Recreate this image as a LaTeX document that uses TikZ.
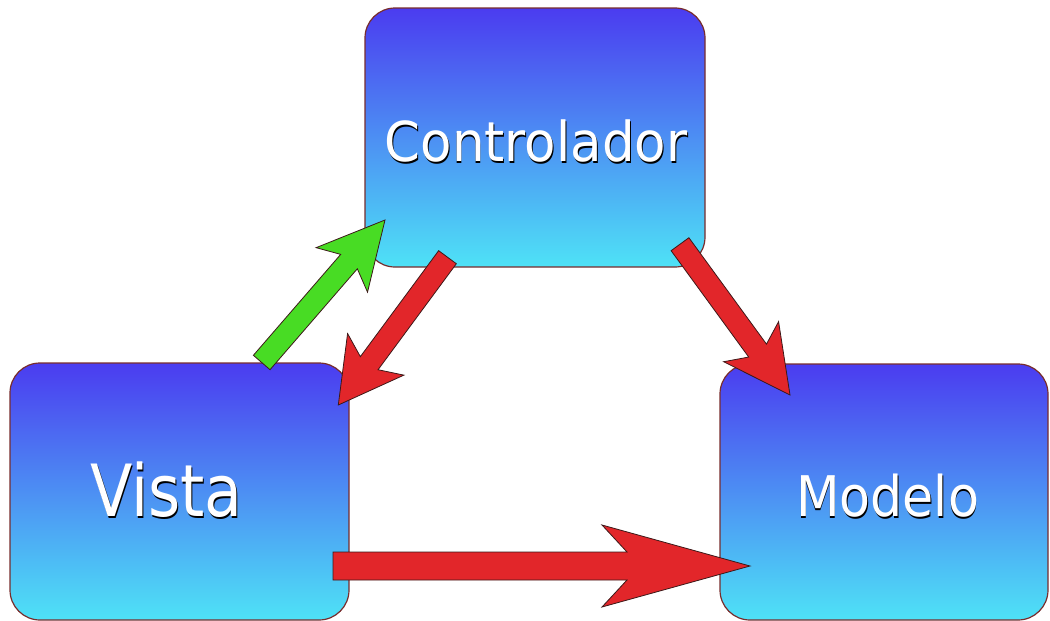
\documentclass[tikz,border=0pt]{standalone}
\usepackage{fontspec}
\setmainfont{DejaVu Sans}
\usetikzlibrary{calc}
\definecolor{boxtop}{RGB}{75,60,240}
\definecolor{boxbot}{RGB}{78,226,246}
\definecolor{boxline}{RGB}{120,45,45}
\definecolor{arrred}{RGB}{226,38,42}
\definecolor{arrgreen}{RGB}{72,220,36}
\definecolor{arrline}{RGB}{60,25,25}
\newcommand{\shtext}[2]{\scalebox{#1}[1]{\makebox[0pt][l]{\hspace{1pt}\raisebox{-2.5pt}{\color{black}#2}}{\color{white}#2}}}
% #1 tail, #2 tip, #3 half shaft, #4 half head, #5 head length, #6 head length minus notch, #7 colour
\newcommand{\blockarrow}[7]{%
  \coordinate (hb) at ($(#2)!#5!(#1)$);
  \coordinate (nb) at ($(#2)!#6!(#1)$);
  \filldraw[blk, fill=#7] ($(#1)!#3!90:(#2)$) -- ($(nb)!#3!90:(#2)$) -- ($(hb)!#4!90:(#2)$)
    -- (#2) -- ($(hb)!#4!-90:(#2)$) -- ($(nb)!#3!-90:(#2)$) -- ($(#1)!#3!-90:(#2)$) -- cycle;
}
\begin{document}
\begin{tikzpicture}[x=1pt,y=-1pt,
  mvcbox/.style={draw=boxline, line width=1.2pt, rounded corners=30pt,
    top color=boxtop, bottom color=boxbot, inner sep=0pt, outer sep=0pt},
  lbl/.style={anchor=base, inner sep=0pt},
  blk/.style={draw=arrline, line width=0.8pt, line join=miter}
]
\useasboundingbox (0,0) rectangle (1050,621);
\node[mvcbox, minimum width=340pt, minimum height=259pt] (ctrl) at (535,137.5) {};
\node[mvcbox, minimum width=339pt, minimum height=257pt] (vista) at (179.5,491.5) {};
\node[mvcbox, minimum width=328pt, minimum height=256pt] (modelo) at (884,492) {};

\node[lbl, font=\fontsize{55}{60}\selectfont] (ctrltxt) at (536,161) {\shtext{0.935}{Controlador}};
\node[lbl, font=\fontsize{72}{80}\selectfont] (vistatxt) at (166.5,516) {\shtext{0.86}{Vista}};
\node[lbl, font=\fontsize{56}{60}\selectfont] (modelotxt) at (887.5,516) {\shtext{0.904}{Modelo}};

\coordinate (g1) at (261.7,362.5);
\coordinate (g2) at (385,220);
\coordinate (r1a) at (447.5,257.2);
\coordinate (r1b) at (338.3,405);
\coordinate (r2a) at (680,244.2);
\coordinate (r2b) at (790,395);
\coordinate (r3a) at (333,566);
\coordinate (r3b) at (750,566);

\blockarrow{g1}{g2}{11pt}{34pt}{66pt}{55pt}{arrgreen}
\blockarrow{r1a}{r1b}{11pt}{35pt}{63pt}{52pt}{arrred}
\blockarrow{r2a}{r2b}{11pt}{34pt}{66pt}{55pt}{arrred}
\blockarrow{r3a}{r3b}{14pt}{41pt}{148pt}{123pt}{arrred}
\end{tikzpicture}
\end{document}
